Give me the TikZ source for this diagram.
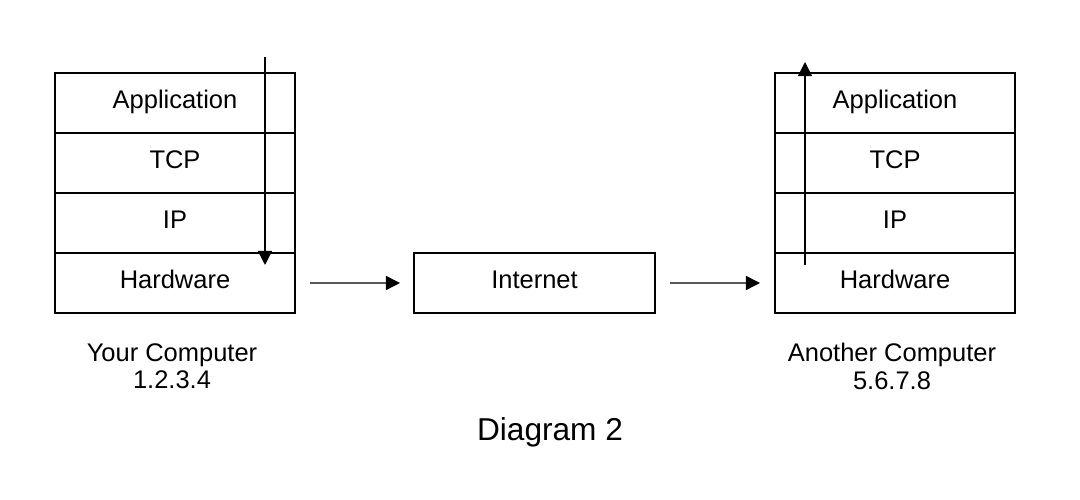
\documentclass[tikz,border=0pt]{standalone}
\usepackage{fontspec}
\setmainfont{Liberation Sans}
\usetikzlibrary{arrows.meta,positioning}

\tikzset{
  layer/.style={draw,line width=0.8pt,minimum width=4.8cm,minimum height=1.2cm,inner sep=0pt,outer sep=0pt,
    text height=1.6ex,text depth=0.4ex,font=\fontsize{14.5}{16}\selectfont},
  flow/.style={line width=0.8pt,-{Triangle[length=8pt,width=8pt]}},
  caption/.style={align=center,font=\fontsize{14.5}{15.5}\selectfont}
}

\begin{document}
\begin{tikzpicture}[line width=0.8pt]
  \useasboundingbox (0,0) rectangle (21.6,10);
  % sending side
  \node[layer] (yapp) at (3.5,7.94) {Application};
  \node[layer,below=0pt of yapp] (ytcp) {TCP};
  \node[layer,below=0pt of ytcp] (yip) {IP};
  \node[layer,below=0pt of yip] (yhw) {Hardware};
  % receiving side
  \node[layer] (aapp) at (17.9,7.94) {Application};
  \node[layer,below=0pt of aapp] (atcp) {TCP};
  \node[layer,below=0pt of atcp] (aip) {IP};
  \node[layer,below=0pt of aip] (ahw) {Hardware};
  % the net between them
  \node[layer,minimum width=4.82cm] (inet) at (10.69,4.34) {Internet};

  \draw[flow,shorten <=0.3cm,shorten >=0.28cm] (yhw) -- (inet);
  \draw[flow,shorten <=0.3cm,shorten >=0.3cm] (inet) -- (ahw);

  \coordinate (ytop) at (5.3,8.86);
  \coordinate (ybot) at (5.3,4.7);
  \draw[flow] (ytop) -- (ybot);
  \coordinate (abot) at (16.1,4.7);
  \coordinate (atop) at (16.1,8.76);
  \draw[flow] (abot) -- (atop);

  \node[caption] (ylbl) at (3.44,2.67) {Your Computer\\1.2.3.4};
  \node[caption] (albl) at (17.84,2.67) {Another Computer\\5.6.7.8};
  \node[font=\fontsize{18}{20}\selectfont] (title) at (11.0,1.36) {Diagram 2};
\end{tikzpicture}
\end{document}
